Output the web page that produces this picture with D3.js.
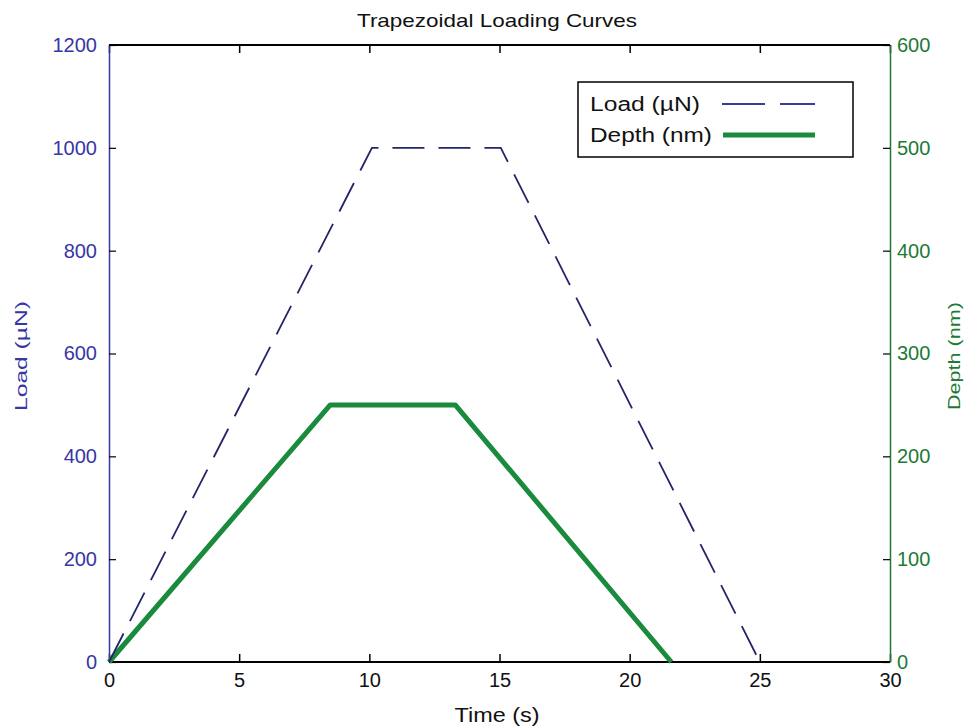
<!DOCTYPE html>
<html><head><meta charset="utf-8">
<script src="https://cdn.jsdelivr.net/npm/d3@7"></script>
<style>body{margin:0;background:#fff;} text{font-family:"Liberation Sans","Arial",sans-serif;}</style>
</head><body><svg id="c" width="965" height="726"></svg>
<script>
const loadTime = [0, 10.1, 15.05, 25];
const loadValues = [0, 1000, 1000, 0];
const depthTime = [0, 8.5, 13.3, 21.6];
const depthValues = [0, 250, 250, 0];
const xTicks = [0, 5, 10, 15, 20, 25, 30];
const loadTicks = [0, 200, 400, 600, 800, 1000, 1200];
const depthTicks = [0, 100, 200, 300, 400, 500, 600];

const svg = d3.select("#c");
const L = 109, R = 890, T = 45, B = 662;
const blue = "#3636a4", green = "#1d7a36";
const x = d3.scaleLinear().domain([0, 30]).range([L, R]);
const yL = d3.scaleLinear().domain([0, 1200]).range([B, T]);
const yR = d3.scaleLinear().domain([0, 600]).range([B, T]);
const fmt = d3.format("d");

// frame
svg.append("line").attr("x1", L).attr("x2", R).attr("y1", T).attr("y2", T).attr("stroke", "#000").attr("stroke-width", 2);
svg.append("line").attr("x1", L).attr("x2", R).attr("y1", B).attr("y2", B).attr("stroke", "#000").attr("stroke-width", 2);

// bottom axis
const xb = svg.append("g").attr("transform", `translate(0,${B})`)
  .call(d3.axisBottom(x).tickValues(xTicks).tickFormat(fmt).tickSizeInner(-8).tickSizeOuter(0).tickPadding(11));
xb.select(".domain").remove();
xb.selectAll("line").attr("stroke", "#000").attr("stroke-width", 1.5);
xb.selectAll("text").attr("font-size", 20).attr("fill", "#111");
// top axis ticks
const xt = svg.append("g").attr("transform", `translate(0,${T})`)
  .call(d3.axisTop(x).tickValues(xTicks).tickSizeInner(-8).tickSizeOuter(0).tickFormat(""));
xt.select(".domain").remove();
xt.selectAll("line").attr("stroke", "#000").attr("stroke-width", 1.5);

// left axis
const yl = svg.append("g").attr("transform", `translate(${L},0)`)
  .call(d3.axisLeft(yL).tickValues(loadTicks).tickFormat(fmt).tickSizeInner(-7).tickSizeOuter(0).tickPadding(12));
yl.select(".domain").attr("stroke", blue).attr("stroke-width", 1.5);
yl.selectAll("line").attr("stroke", "#000").attr("stroke-width", 1.2);
yl.selectAll("text").attr("font-size", 20).attr("fill", blue);

// right axis
const yr = svg.append("g").attr("transform", `translate(${R},0)`)
  .call(d3.axisRight(yR).tickValues(depthTicks).tickFormat(fmt).tickSizeInner(-7).tickSizeOuter(0).tickPadding(7));
yr.select(".domain").attr("stroke", green).attr("stroke-width", 1.5);
yr.selectAll("line").attr("stroke", "#000").attr("stroke-width", 1.2);
yr.selectAll("text").attr("font-size", 20).attr("fill", green);

// lines
const loadData = loadTime.map((t, i) => [t, loadValues[i]]);
const depthData = depthTime.map((t, i) => [t, depthValues[i]]);
svg.append("path").datum(depthData)
  .attr("d", d3.line().x(d => x(d[0])).y(d => yR(d[1])))
  .attr("fill", "none").attr("stroke", "#1a8a3c").attr("stroke-width", 5).attr("stroke-linejoin", "round");
svg.append("path").datum(loadData)
  .attr("d", d3.line().x(d => x(d[0])).y(d => yL(d[1])))
  .attr("fill", "none").attr("stroke", "#24246a").attr("stroke-width", 1.8).attr("stroke-dasharray", "32,14");

// title & labels
svg.append("text").attr("x", 497).attr("y", 27).attr("text-anchor", "middle").attr("font-size", 19)
  .attr("textLength", 280).attr("lengthAdjust", "spacingAndGlyphs").attr("fill", "#111").text("Trapezoidal Loading Curves");
svg.append("text").attr("x", 497).attr("y", 722).attr("text-anchor", "middle").attr("font-size", 20)
  .attr("textLength", 85).attr("lengthAdjust", "spacingAndGlyphs").attr("fill", "#111").text("Time (s)");
svg.append("text").attr("transform", "translate(27,356) rotate(-90)").attr("text-anchor", "middle").attr("font-size", 17)
  .attr("textLength", 110).attr("lengthAdjust", "spacingAndGlyphs").attr("fill", blue).text("Load (µN)");
svg.append("text").attr("transform", "translate(960,356) rotate(-90)").attr("text-anchor", "middle").attr("font-size", 17)
  .attr("textLength", 108).attr("lengthAdjust", "spacingAndGlyphs").attr("fill", green).text("Depth (nm)");

// legend
const lg = svg.append("g");
lg.append("rect").attr("x", 578).attr("y", 82).attr("width", 275).attr("height", 75).attr("fill", "#fff").attr("stroke", "#000").attr("stroke-width", 1.5);
lg.append("text").attr("x", 590).attr("y", 111).attr("font-size", 20).attr("textLength", 110).attr("lengthAdjust", "spacingAndGlyphs").attr("fill", "#111").text("Load (µN)");
lg.append("text").attr("x", 590).attr("y", 142).attr("font-size", 20).attr("textLength", 122).attr("lengthAdjust", "spacingAndGlyphs").attr("fill", "#111").text("Depth (nm)");
lg.append("line").attr("x1", 722).attr("x2", 815).attr("y1", 104).attr("y2", 104).attr("stroke", "#3a3a9a").attr("stroke-width", 1.8).attr("stroke-dasharray", "43,15");
lg.append("line").attr("x1", 723).attr("x2", 815).attr("y1", 135).attr("y2", 135).attr("stroke", "#1a8a3c").attr("stroke-width", 5);
</script></body></html>
